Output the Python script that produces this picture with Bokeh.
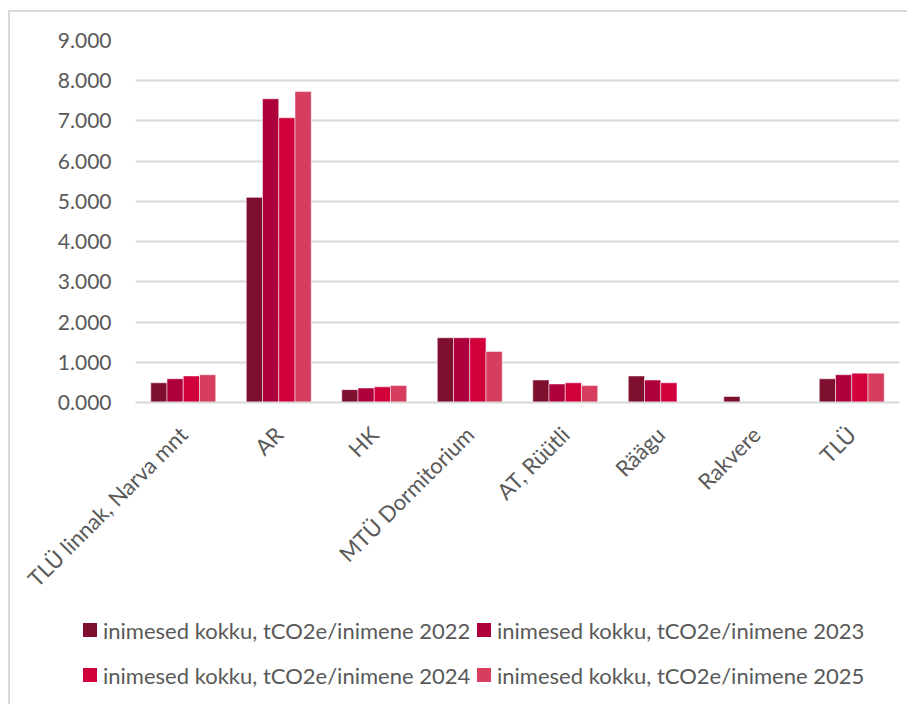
import math
from bokeh.plotting import figure
from bokeh.layouts import column
from bokeh.models import (ColumnDataSource, FactorRange, Range1d, FixedTicker,
                          NumeralTickFormatter, Div)
from bokeh.transform import dodge
from bokeh.embed import file_html
from bokeh.resources import INLINE

NaN = float("nan")

categories = ["TLÜ linnak, Narva mnt", "AR", "HK", "MTÜ Dormitorium",
              "AT, Rüütli", "Räägu", "Rakvere", "TLÜ"]
series_names = ["inimesed kokku, tCO2e/inimene 2022",
                "inimesed kokku, tCO2e/inimene 2023",
                "inimesed kokku, tCO2e/inimene 2024",
                "inimesed kokku, tCO2e/inimene 2025"]
v2022 = [0.49, 5.10, 0.32, 1.61, 0.56, 0.66, 0.15, 0.59]
v2023 = [0.59, 7.55, 0.36, 1.61, 0.46, 0.56, NaN, 0.69]
v2024 = [0.66, 7.08, 0.39, 1.61, 0.49, 0.49, NaN, 0.73]
v2025 = [0.69, 7.73, 0.42, 1.27, 0.42, NaN, NaN, 0.73]
y_ticks = [0, 1, 2, 3, 4, 5, 6, 7, 8, 9]

colors = ["#7F0F2F", "#AD003C", "#D1003A", "#D63D5F"]
FONT = "Lato"
TEXT = "#595959"
GRID = "#d9d9d9"

source = ColumnDataSource(dict(cat=categories, v2022=v2022, v2023=v2023,
                               v2024=v2024, v2025=v2025))

p = figure(x_range=FactorRange(*categories), y_range=Range1d(0, 9),
           width=897, height=605, output_backend="svg", toolbar_location=None,
           min_border_left=125, min_border_right=8, min_border_top=28,
           min_border_bottom=215)
p.outline_line_color = None
p.background_fill_color = "white"

bw = 0.17
offsets = [-0.255, -0.085, 0.085, 0.255]
cols = ["v2022", "v2023", "v2024", "v2025"]
for col, off, c in zip(cols, offsets, colors):
    p.vbar(x=dodge("cat", off, range=p.x_range), top=col, width=bw,
           source=source, fill_color=c, line_color="white",
           line_alpha=0.5, line_width=1)

p.yaxis.ticker = FixedTicker(ticks=y_ticks)
p.yaxis.formatter = NumeralTickFormatter(format="0.000")
p.yaxis.axis_line_color = None
p.yaxis.major_tick_line_color = None
p.yaxis.minor_tick_line_color = None
p.yaxis.major_label_standoff = 18
p.yaxis.major_label_text_font = FONT
p.yaxis.major_label_text_font_size = "21px"
p.yaxis.major_label_text_color = TEXT

p.xaxis.axis_line_color = GRID
p.xaxis.axis_line_width = 2
p.xaxis.major_tick_line_color = None
p.xaxis.minor_tick_line_color = None
p.xaxis.major_label_orientation = math.pi / 4
p.xaxis.major_label_standoff = 22
p.xaxis.major_label_text_font = FONT
p.xaxis.major_label_text_font_size = "22px"
p.xaxis.major_label_text_color = TEXT

p.xgrid.grid_line_color = None
p.ygrid.grid_line_color = GRID
p.ygrid.grid_line_width = 2

# legend strip (HTML) below the chart: 2 columns, row-major order
col_x = [73, 467]
row_y = [15, 60]
parts = []
for i, (name, c) in enumerate(zip(series_names, colors)):
    cx = col_x[i % 2]
    cy = row_y[i // 2]
    parts.append(
        f'<div style="position:absolute;left:{cx}px;top:{cy - 9}px;'
        f'width:14px;height:14px;background:{c};"></div>'
        f'<div style="position:absolute;left:{cx + 20}px;top:{cy - 16}px;'
        f'height:30px;line-height:30px;white-space:nowrap;">{name}</div>')
html = (f'<div style="position:relative;width:897px;height:87px;'
        f'font-family:Lato;font-size:22px;color:{TEXT};">' + "".join(parts) + '</div>')
legend_div = Div(text=html, width=897, height=87, margin=0)

layout = column(p, legend_div, spacing=0)
layout.styles = {"margin-left": "8px", "margin-top": "10px",
                 "border-left": "2px solid #d9d9d9", "border-top": "2px solid #d9d9d9"}

open("out.html", "w").write(file_html(layout, INLINE))
